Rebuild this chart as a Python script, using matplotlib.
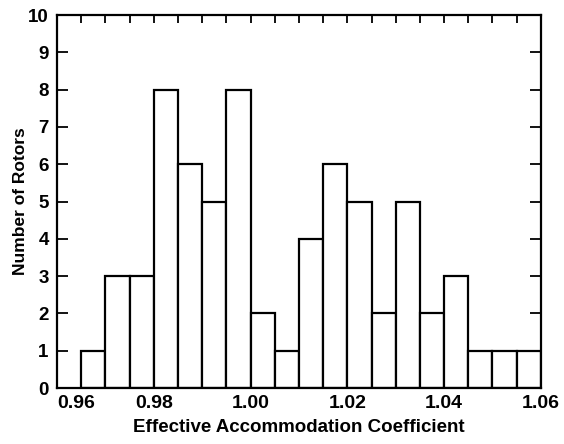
import numpy as np
import matplotlib.pyplot as plt
from matplotlib.ticker import MultipleLocator

# histogram of effective accommodation coefficient
bin_start = 0.965
bin_width = 0.005
counts = [1, 3, 3, 8, 6, 5, 8, 2, 1, 4, 6, 5, 2, 5, 2, 3, 1, 1, 1]
xtick_vals = [0.96, 0.98, 1.00, 1.02, 1.04, 1.06]
xtick_labels = ['0.96', '0.98', '1.00', '1.02', '1.04', '1.06']

plt.rcParams['font.family'] = ['Liberation Sans', 'DejaVu Sans']
plt.rcParams['font.weight'] = 'bold'

fig = plt.figure(figsize=(5.64, 4.44), dpi=100)
ax = fig.add_axes([0.101, 0.126, 0.858, 0.84])

lefts = bin_start + bin_width * np.arange(len(counts))
ax.bar(lefts, counts, width=bin_width, align='edge', color='white',
       edgecolor='black', linewidth=1.6)

ax.set_xlim(0.96, 1.06)
ax.set_ylim(0, 10)
ax.set_xticks(xtick_vals)
ax.set_xticklabels(xtick_labels)
ax.xaxis.set_minor_locator(MultipleLocator(0.005))
ax.set_yticks(range(0, 11))

for s in ax.spines.values():
    s.set_linewidth(1.6)

ax.tick_params(axis='x', which='both', bottom=False, top=True, direction='in',
               length=6, width=1.3, labelsize=14, pad=5)
ax.tick_params(axis='y', which='both', left=True, right=True, direction='in',
               length=8, width=1.3, labelsize=13.5, pad=6)
# first label sits to the right of the corner, clear of the y "0"
ax.get_xticklabels()[0].set_horizontalalignment('left')

ax.set_xlabel('Effective Accommodation Coefficient', fontsize=13.5,
              fontweight='bold', labelpad=5)
ax.set_ylabel('Number of Rotors', fontsize=12.5, fontweight='bold', labelpad=0)

fig.savefig('out.png', dpi=100)
